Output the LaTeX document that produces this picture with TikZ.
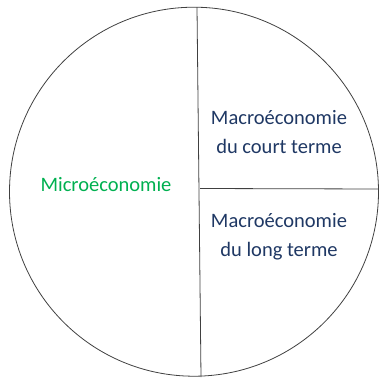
\documentclass[tikz,border=0pt]{standalone}
\usepackage{fontspec}
\setmainfont{Carlito}
\definecolor{microgreen}{HTML}{00B050}
\definecolor{macroblue}{HTML}{1F3864}
\tikzset{
  label text/.style={font=\fontsize{20.5}{29.5}\selectfont, align=center},
  edge line/.style={draw=black!75, line width=0.8pt}
}
\begin{document}
\begin{tikzpicture}[x=1pt, y=-1pt]
                \useasboundingbox (0, 0) rectangle (379, 377);
                \clip (0, 0) rectangle (379, 377);
                \draw [edge line] (194, 191.7) circle [radius=184.5pt];
                \coordinate (top) at (197, 7.2);
                \coordinate (bottom) at (201, 377);
                \coordinate (mid) at (200, 188.5);
                \coordinate (right) at (379, 189);
                \draw [edge line] (top) -- (bottom);
                \draw [edge line] (mid) -- (right);
                \node [label text, text=microgreen] (micro) at (106, 185) {Microéconomie};
                \node [label text, text=macroblue] (court) at (279, 132) {Macroéconomie\\du court terme};
                \node [label text, text=macroblue] (long) at (279, 236.5) {Macroéconomie\\du long terme};
            \end{tikzpicture}
\end{document}
